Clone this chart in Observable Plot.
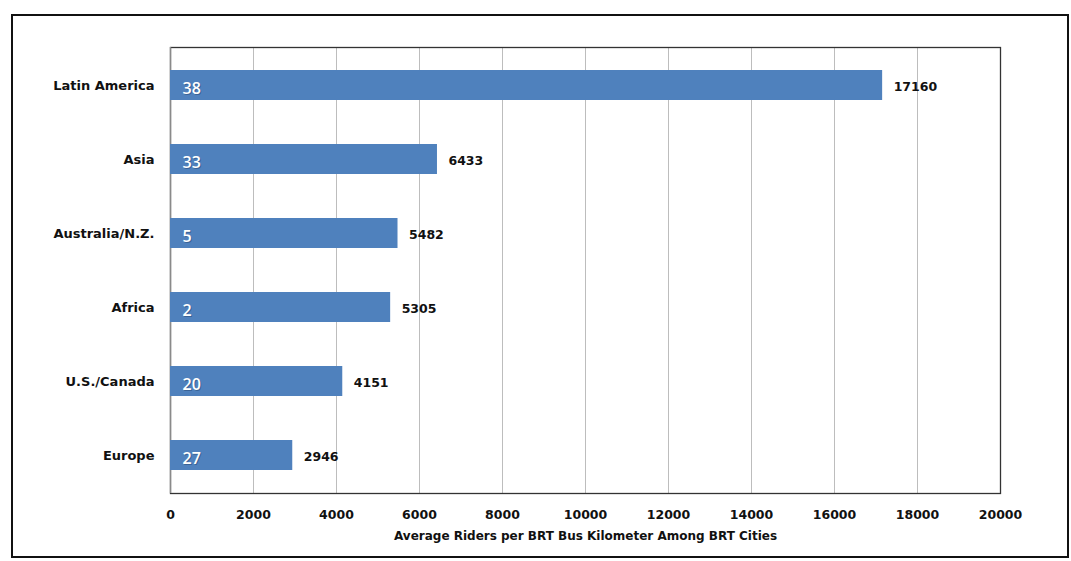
<!DOCTYPE html>
<html>
<head>
<meta charset="utf-8">
<script src="https://cdn.jsdelivr.net/npm/d3@7"></script>
<script src="https://cdn.jsdelivr.net/npm/@observablehq/plot@0.6"></script>
<style>
  html, body { margin: 0; padding: 0; background: #fff; }
  #wrap { position: relative; width: 1071px; height: 561px; }
  #border {
    position: absolute; left: 11px; top: 14px; width: 1054px; height: 540px;
    border: 2px solid #111; pointer-events: none;
  }
  svg { font-family: "DejaVu Sans", sans-serif; }
</style>
</head>
<body>
<div id="wrap"><div id="border"></div></div>
<script>
// Regions, top to bottom
const regions = ["Latin America", "Asia", "Australia/N.Z.", "Africa", "U.S./Canada", "Europe"];
// Average riders per BRT bus kilometer
const riders = [17160, 6433, 5482, 5305, 4151, 2946];
// Number of BRT cities in each region
const cities = [38, 33, 5, 2, 20, 27];
// X axis ticks
const xTicks = [0, 2000, 4000, 6000, 8000, 10000, 12000, 14000, 16000, 18000, 20000];

const rows = regions.map((region, i) => ({region, riders: riders[i], cities: cities[i]}));

const chart = Plot.plot({
  width: 1071,
  height: 561,
  marginLeft: 170,
  marginRight: 71,
  marginTop: 47,
  marginBottom: 68,
  style: {background: "transparent", color: "#111"},
  x: {domain: [0, 20000], ticks: xTicks, label: null},
  y: {domain: regions, paddingInner: 0.6, paddingOuter: 0.31, label: null},
  marks: [
    Plot.gridX(xTicks, {stroke: "#bdbdbd", strokeOpacity: 1}),
    Plot.frame({stroke: "#333", strokeWidth: 1.3}),
    Plot.ruleX([0], {stroke: "#8a8a8a", strokeWidth: 1.3}),
    Plot.barX(rows, {y: "region", x: "riders", fill: "#4f81bd"}),
    // city counts inside the bars, with a soft shadow
    Plot.text(rows, {y: "region", x: 0, text: d => String(d.cities), dx: 13, dy: 4,
      textAnchor: "start", fill: "#2c4f7c", fillOpacity: 0.6, fontSize: 16,
      fontWeight: 600, fontFamily: "Open Sans"}),
    Plot.text(rows, {y: "region", x: 0, text: d => String(d.cities), dx: 12, dy: 3,
      textAnchor: "start", fill: "#fff", fontSize: 16, fontWeight: 600, fontFamily: "Open Sans"}),
    // value labels past the bar ends
    Plot.text(rows, {y: "region", x: "riders", text: d => String(d.riders), dx: 11, dy: 1,
      textAnchor: "start", fill: "#111", fontSize: 12.5, fontWeight: "bold"}),
    Plot.axisY({tickSize: 0, tickPadding: 16, fontSize: 13, fontWeight: "bold", label: null}),
    Plot.axisX(xTicks, {tickSize: 0, tickPadding: 17, fontSize: 12.5, fontWeight: "bold",
      tickFormat: d => String(d), label: null}),
    Plot.text(["Average Riders per BRT Bus Kilometer Among BRT Cities"], {
      frameAnchor: "bottom", dy: 46, fontSize: 12, fontWeight: "bold", fill: "#111"})
  ]
});

document.getElementById("wrap").prepend(chart);
</script>
</body>
</html>
